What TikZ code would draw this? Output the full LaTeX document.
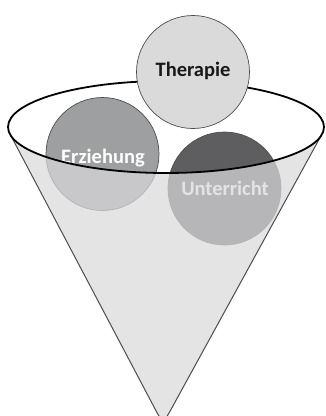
\documentclass[tikz,border=0pt]{standalone}
\usepackage{fontspec}
\setmainfont{Carlito}
\definecolor{balllight}{HTML}{DADADA}
\definecolor{ballmid}{HTML}{9E9FA1}
\definecolor{balldark}{HTML}{5E5E60}
\definecolor{funnelgray}{HTML}{D9D9DB}
\definecolor{edgegray}{HTML}{4D4D4D}
\begin{document}
\begin{tikzpicture}[x=1pt,y=-1pt,
    ball/.style={circle, draw=edgegray, line width=0.7pt, minimum size=113pt, inner sep=0pt},
    word/.style={anchor=base, inner sep=0pt, font=\bfseries\fontsize{20.5}{20.5}\selectfont}]
    \useasboundingbox (0,0) rectangle (325,416);

    \coordinate (rimleft) at (10,134);
    \coordinate (rimright) at (322,134);
    \coordinate (tip) at (163,424);

    \node[ball, fill=ballmid] (erziehung) at (102.5,154) {};
    \node[word, text=white] (erziehungtext) at (103,163) {Erziehung};
    \node[ball, fill=balldark] (unterricht) at (224.5,188.5) {};
    \node[word, text=white] (unterrichttext) at (225,195) {Unterricht};

    % front of the funnel, seen through
    \fill[funnelgray, opacity=0.72] (rimleft) -- (154.6,408.1) .. controls (tip) .. (171.7,408.2) -- (rimright)
        arc[start angle=9.07, end angle=171.3, x radius=158, y radius=46] -- cycle;
    \draw[edgegray, line width=1pt] (rimleft) -- (154.6,408.1) .. controls (tip) .. (171.7,408.2) -- (rimright);

    \draw[line width=1.8pt] (166,127) ellipse[x radius=158, y radius=46];

    \node[ball, fill=balllight] (therapie) at (193,72) {};
    \node[word, text=black!90] (therapietext) at (193,76) {Therapie};
\end{tikzpicture}
\end{document}
